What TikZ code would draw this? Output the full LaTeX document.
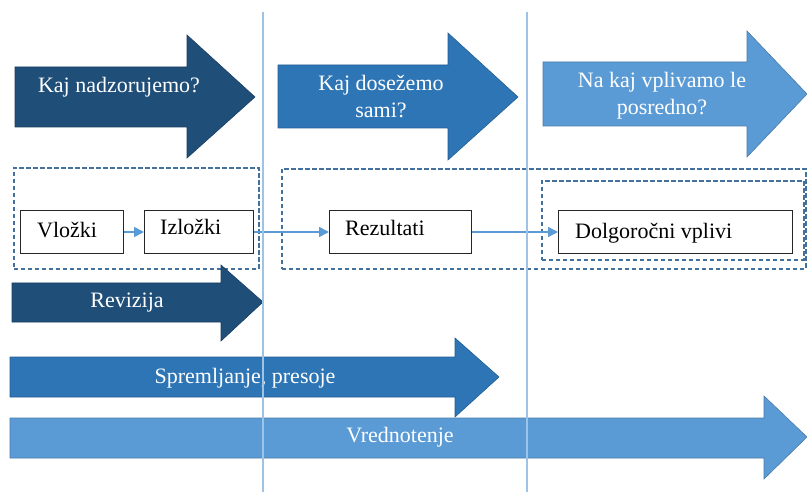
\documentclass[tikz,border=0pt]{standalone}
\usepackage{fontspec}
\setmainfont{Liberation Serif}
\usetikzlibrary{arrows.meta}
\definecolor{cdark}{HTML}{1F4E79}
\definecolor{cmed}{HTML}{2E75B6}
\definecolor{clight}{HTML}{5B9BD5}
\definecolor{cdash}{HTML}{41719C}
\definecolor{cvline}{HTML}{9DC3E6}
\tikzset{
  bigarr/.style={draw=#1!80!black, line width=0.6pt, fill=#1},
  arrtext/.style={text=white, font=\fontsize{22}{27}\selectfont, align=center, inner sep=0pt},
  dashbox/.style={draw=cdash, line width=1.6pt, dash pattern=on 4.5pt off 2.5pt},
  stepbox/.style={draw=black!85, line width=1pt, fill=white, inner sep=0pt},
  boxtext/.style={font=\fontsize{22}{26}\selectfont, anchor=base west, inner sep=0pt},
  conn/.style={draw=clight, line width=1.6pt, -{Triangle[length=10pt,width=10pt]}},
  vline/.style={draw=cvline, line width=1.1pt}
}
\begin{document}
\begin{tikzpicture}[x=1pt,y=-1pt]
\useasboundingbox (0,0) rectangle (807,492);
% top arrows
\draw[bigarr=cdark] (15,67) -- (187,67) -- (187,35) -- (255,97) -- (187,158) -- (187,127) -- (15,127) -- cycle;
\node[arrtext] (q1) at (119,87) {Kaj nadzorujemo?};
\draw[bigarr=cmed] (278,65) -- (448,65) -- (448,33) -- (518,97) -- (448,160) -- (448,128) -- (278,128) -- cycle;
\node[arrtext] (q2) at (381,97) {Kaj dosežemo\\sami?};
\draw[bigarr=clight] (543,62) -- (747,62) -- (747,31) -- (807,94) -- (747,157) -- (747,126) -- (543,126) -- cycle;
\node[arrtext] (q3) at (662,96) {Na kaj vplivamo le\\posredno?};
% dashed groups
\node[dashbox, minimum width=245pt, minimum height=101pt, anchor=north west] (g1) at (13,167) {};
\node[dashbox, minimum width=524pt, minimum height=100pt, anchor=north west] (g2) at (281,168) {};
\node[dashbox, minimum width=262pt, minimum height=79pt, anchor=north west] (g3) at (541,180) {};
% boxes
\node[stepbox, minimum width=103pt, minimum height=43pt, anchor=north west] (b1) at (20,210) {};
\path (b1.west) ++(17,5.5) node[boxtext] (t1) {Vložki};
\node[stepbox, minimum width=109pt, minimum height=43pt, anchor=north west] (b2) at (144,210) {};
\path (b2.west) ++(16,2.5) node[boxtext] (t2) {Izložki};
\node[stepbox, minimum width=142pt, minimum height=43pt, anchor=north west] (b3) at (329,210) {};
\path (b3.west) ++(16,3.5) node[boxtext] (t3) {Rezultati};
\node[stepbox, minimum width=234pt, minimum height=43pt, anchor=north west] (b4) at (558,210) {};
\path (b4.west) ++(17,6.5) node[boxtext] (t4) {Dolgoročni vplivi};
% connectors
\draw[conn] (b1.east) -- (b2.west);
\draw[conn] (b2.east) -- (b3.west);
\draw[conn] (b3.east) -- (b4.west);
% bottom arrows
\draw[bigarr=cdark] (12,283) -- (221,283) -- (221,265) -- (263,302) -- (221,341) -- (221,322) -- (12,322) -- cycle;
\node[arrtext] (r1) at (127,303) {Revizija};
\draw[bigarr=cmed] (10,357) -- (455,357) -- (455,338) -- (499,377) -- (455,417) -- (455,397) -- (10,397) -- cycle;
\node[arrtext] (r2) at (245,378) {Spremljanje, presoje};
\draw[bigarr=clight] (10,418) -- (764,418) -- (764,396) -- (807,437) -- (764,479) -- (764,458) -- (10,458) -- cycle;
\node[arrtext] (r3) at (400,437) {Vrednotenje};
% vertical dividers
\coordinate (v1t) at (263,12);
\coordinate (v1b) at (263,492);
\coordinate (v2t) at (527,12);
\coordinate (v2b) at (527,492);
\draw[vline] (v1t) -- (v1b);
\draw[vline] (v2t) -- (v2b);
\end{tikzpicture}
\end{document}
